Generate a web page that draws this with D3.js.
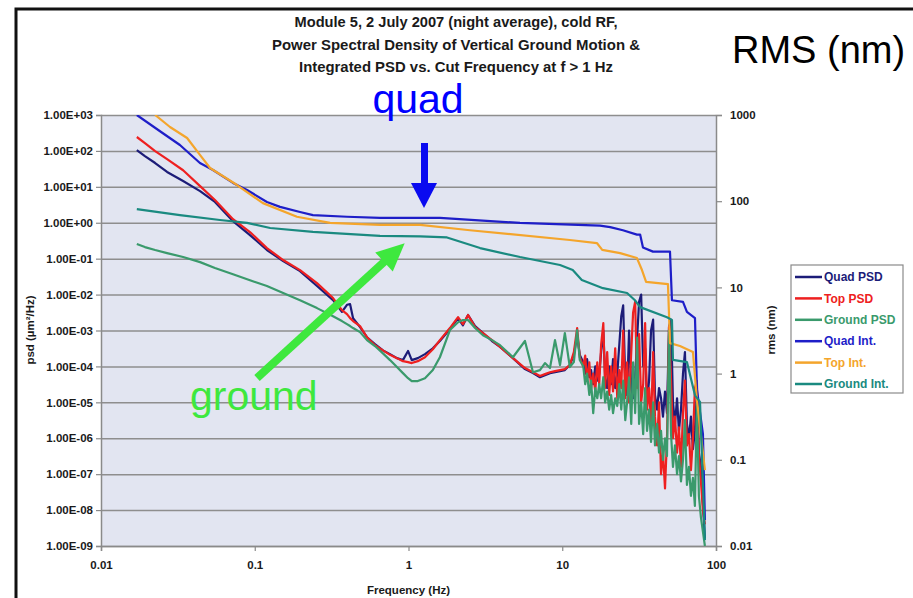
<!DOCTYPE html>
<html>
<head>
<meta charset="utf-8">
<script src="https://cdn.jsdelivr.net/npm/d3@7"></script>
<style>
body { margin: 0; background: #fff; }
svg text { font-family: "Liberation Sans", Arial, sans-serif; }
</style>
</head>
<body>
<div id="chart"></div>
<script>
// frequencies (Hz) shared by the three PSD series
var psdFreq = [
  0.0171, 0.0193, 0.0225, 0.0269, 0.0342, 0.0441, 0.0551, 0.0722, 0.0931, 0.120,
  0.153, 0.197, 0.254, 0.323, 0.369, 0.398, 0.417, 0.436, 0.484, 0.537,
  0.605, 0.682, 0.758, 0.841, 0.920, 0.993, 1.05, 1.15, 1.28, 1.44,
  1.60, 1.86, 2.10, 2.26, 2.44, 2.71, 3.05, 3.49, 3.94, 4.78,
  5.72, 6.45, 7.16, 7.72, 8.32, 8.97, 9.67, 10.4, 11.2, 11.9,
  12.5, 13.0,
  13.7, 14.1, 14.5, 15.0, 15.4, 15.9, 16.4, 16.9, 17.4, 17.9,
  18.5, 19.0, 19.6, 20.2, 20.8, 21.4, 22.1, 22.8, 23.5, 24.2,
  24.9, 25.7, 26.4, 27.2, 28.1, 28.9, 29.8, 30.7, 31.6, 32.6,
  33.6, 34.6, 35.6, 36.7, 37.8, 39.0, 40.1, 41.4, 42.6, 43.9,
  45.2, 46.6, 48.0, 49.5, 51.0, 52.5, 54.1, 55.8, 57.4, 59.2,
  61.0, 62.8, 64.7, 66.7, 68.7, 70.8, 72.9, 75.1, 77.4, 79.8, 82.2, 84.7
];

// psd (um^2/Hz)
var quadPsd = [
  106, 72, 46, 26, 14.5, 7.6, 3.8, 1.11, 0.454, 0.174,
  0.0857, 0.0452, 0.0173, 0.00703, 0.0033, 0.0052, 0.0054, 0.0022, 0.00124, 6.5e-4,
  4.2e-4, 2.8e-4, 2.2e-4, 1.7e-4, 1.5e-4, 2.7e-4, 1.5e-4, 1.7e-4, 2.2e-4, 3.2e-4,
  5.1e-4, 1.1e-3, 2.2e-3, 1.4e-3, 2.7e-3, 1.33e-3, 8.5e-4, 5.1e-4, 3.5e-4, 1.7e-4,
  8.4e-5, 6.5e-5, 5.0e-5, 5.7e-5, 6.5e-5, 6.9e-5, 7.4e-5, 7.9e-5, 1.09e-4, 2.1e-4,
  7.4e-4, 2.1e-4,
  1.3e-4, 6.3e-5, 1.6e-4, 5.0e-5, 7.9e-5, 3.2e-5, 1.0e-4, 4.0e-5, 6.3e-5, 2.5e-4,
  1.0e-3, 5.0e-5, 2.5e-5, 1.0e-4, 3.2e-5, 1.6e-4, 2.5e-5, 6.3e-5, 4.0e-4, 2.5e-3,
  5.0e-3, 4.0e-5, 1.6e-5, 1.0e-3, 2.5e-5, 1.3e-5, 5.0e-5, 6.3e-4, 6.3e-3, 1.0e-2,
  1.0e-4, 3.2e-4, 1.0e-5, 4.0e-5, 1.0e-3, 2.0e-3, 1.6e-5, 6.3e-6, 2.5e-5, 1.3e-5,
  4.0e-6, 2.0e-5, 5.0e-6, 1.3e-3, 2.0e-3, 1.0e-5, 2.5e-6, 1.3e-5, 1.6e-6, 6.3e-6,
  6.3e-5, 2.5e-4, 2.5e-6, 1.0e-6, 4.0e-6, 5.0e-7, 1.6e-6, 2.0e-5, 4.0e-7, 1.6e-7, 1.6e-8, 1.6e-9
];

var topPsd = [
  244, 166, 99, 59, 29, 10.5, 4.3, 1.26, 0.55, 0.197,
  0.0914, 0.048, 0.0209, 0.008, 0.0037, 0.00286, 0.00221, 0.00183, 0.00133, 6.5e-4,
  3.9e-4, 2.8e-4, 2.1e-4, 1.7e-4, 1.4e-4, 1.32e-4, 1.24e-4, 1.4e-4, 1.8e-4, 3.0e-4,
  5.4e-4, 1.17e-3, 2.36e-3, 1.5e-3, 2.7e-3, 1.24e-3, 8.5e-4, 5.4e-4, 3.5e-4, 1.7e-4,
  9.0e-5, 6.9e-5, 5.4e-5, 6.1e-5, 6.9e-5, 7.4e-5, 7.9e-5, 8.4e-5, 1.09e-4, 2.5e-4,
  1.17e-3, 1.8e-4,
  1.0e-4, 2.0e-4, 4.0e-5, 1.3e-4, 2.5e-5, 6.3e-5, 2.0e-5, 1.3e-4, 3.2e-5, 4.0e-4,
  1.6e-3, 2.5e-5, 2.5e-4, 1.6e-5, 1.0e-4, 2.0e-5, 3.2e-4, 1.3e-5, 7.9e-5, 2.5e-5,
  1.0e-3, 1.3e-5, 1.3e-4, 1.0e-5, 2.5e-4, 3.2e-3, 6.3e-3, 2.5e-5, 7.9e-4, 1.0e-5,
  3.2e-5, 1.6e-3, 6.3e-6, 2.5e-5, 2.5e-6, 2.5e-4, 4.0e-6, 6.3e-7, 1.0e-5, 1.0e-7,
  4.0e-7, 4.0e-8, 1.0e-6, 1.3e-3, 4.0e-5, 1.0e-6, 4.0e-6, 4.0e-7, 2.0e-6, 1.6e-7,
  5.0e-6, 4.0e-5, 6.3e-7, 1.3e-6, 1.3e-7, 1.0e-6, 2.5e-5, 4.0e-5, 3.2e-7, 6.3e-8, 1.0e-8, 4.0e-9
];

var groundPsd = [
  0.255, 0.21, 0.174, 0.143, 0.111, 0.080, 0.055, 0.037, 0.025, 0.0173,
  0.011, 0.0070, 0.0042, 0.0025, 0.00183, 0.0015, 0.00133, 0.00117, 9.0e-4, 5.4e-4,
  3.7e-4, 2.3e-4, 1.5e-4, 9.6e-5, 6.5e-5, 4.7e-5, 3.9e-5, 3.9e-5, 4.7e-5, 7.9e-5,
  1.8e-4, 1.03e-3, 1.7e-3, 1.95e-3, 1.95e-3, 1.17e-3, 7.4e-4, 5.4e-4, 3.9e-4, 1.8e-4,
  5.1e-4, 6.9e-5, 7.9e-5, 1.24e-4, 9.0e-5, 5.4e-4, 1.09e-4, 8.5e-4, 9.6e-5, 1.32e-4,
  1.03e-3, 1.5e-4,
  1.0e-4, 3.2e-5, 6.3e-5, 1.6e-5, 4.0e-5, 5.0e-6, 2.5e-5, 1.3e-5, 3.2e-5, 1.3e-5,
  5.0e-5, 1.0e-5, 2.0e-5, 6.3e-6, 1.6e-5, 5.0e-6, 1.3e-5, 7.9e-6, 3.2e-5, 6.3e-6,
  4.0e-5, 3.2e-6, 1.0e-5, 5.0e-5, 2.5e-6, 1.3e-4, 5.0e-6, 6.3e-4, 2.5e-6, 1.0e-5,
  1.3e-6, 2.5e-5, 1.6e-6, 6.3e-6, 7.9e-7, 1.0e-5, 6.3e-7, 2.5e-6, 4.0e-7, 1.6e-6,
  2.5e-7, 1.0e-6, 3.2e-7, 1.0e-3, 1.3e-6, 1.6e-7, 6.3e-7, 1.0e-7, 3.2e-7, 6.3e-8,
  2.5e-7, 3.2e-6, 5.0e-8, 1.6e-7, 2.5e-8, 7.9e-8, 1.3e-8, 1.0e-5, 2.5e-8, 6.3e-9, 2.5e-9, 1.0e-9
];

// integrated rms (nm), each with its own frequencies
var quadIntFreq = [0.0171, 0.0246, 0.0326, 0.044, 0.0535, 0.0722, 0.0891, 0.120, 0.146, 0.197,
  0.239, 0.398, 0.653, 1.60, 5.31, 17.6, 20.5, 24.8, 30.6, 32.1,
  33.5, 38.9, 50.2, 51.7, 61.0, 64.7, 73.0, 75.2, 82.2, 84.7];
var quadInt = [1000, 635, 449, 277, 230, 163, 135, 98, 86, 75,
  69, 66, 64, 64, 56, 52, 50, 46, 41, 41,
  29, 26, 26, 7.1, 6.8, 5.2, 4.4, 0.65, 0.20, 0.02];

var topIntFreq = [0.0225, 0.0281, 0.0363, 0.044, 0.0512, 0.0767, 0.113, 0.188, 0.309, 0.653,
  1.19, 2.51, 11.2, 16.8, 18.2, 23.8, 30.6, 33.0, 35.1, 48.7,
  50.2, 58.3, 70.8, 75.2, 84.7];
var topInt = [1000, 726, 541, 344, 243, 154, 95, 66, 56, 53,
  53, 46, 35.5, 32.7, 27.2, 25, 21.9, 15.9, 11.6, 10.9,
  2.26, 2.09, 1.78, 0.49, 0.076];

var groundIntFreq = [0.0171, 0.0326, 0.0594, 0.0891, 0.126, 0.239, 0.653, 1.19, 1.78, 2.92,
  5.31, 9.67, 11.7, 13.4, 18.4, 26.4, 29.7, 32.1, 48.0, 51.7,
  52.5, 64.7, 73.0, 78.7, 84.7];
var groundInt = [81, 69, 60.5, 56, 48.9, 44, 39.5, 39, 38, 28.6,
  22.5, 18.2, 15.9, 12.2, 9.8, 8.6, 7.1, 5.9, 4.5, 4.2,
  1.44, 1.36, 0.56, 0.47, 0.0117];

var psdTicks = [1e3, 1e2, 1e1, 1e0, 1e-1, 1e-2, 1e-3, 1e-4, 1e-5, 1e-6, 1e-7, 1e-8, 1e-9];
var psdTickLabels = ["1.00E+03", "1.00E+02", "1.00E+01", "1.00E+00", "1.00E-01", "1.00E-02",
  "1.00E-03", "1.00E-04", "1.00E-05", "1.00E-06", "1.00E-07", "1.00E-08", "1.00E-09"];
var rmsTicks = [1000, 100, 10, 1, 0.1, 0.01];
var rmsTickLabels = ["1000", "100", "10", "1", "0.1", "0.01"];
var freqTicks = [0.01, 0.1, 1, 10, 100];
var freqTickLabels = ["0.01", "0.1", "1", "10", "100"];

var titleLines = ["Module 5, 2 July 2007 (night average), cold RF,",
  "Power Spectral Density of Vertical Ground Motion &",
  "Integrated PSD vs. Cut Frequency at f > 1 Hz"];
var titleWidths = [323, 368, 314];

var series = [
  {name: "Quad PSD", freq: psdFreq, vals: quadPsd, axis: "psd", color: "#1c1c78"},
  {name: "Top PSD", freq: psdFreq, vals: topPsd, axis: "psd", color: "#ee2020"},
  {name: "Ground PSD", freq: psdFreq, vals: groundPsd, axis: "psd", color: "#3a9a6c"},
  {name: "Quad Int.", freq: quadIntFreq, vals: quadInt, axis: "rms", color: "#1e1ec8"},
  {name: "Top Int.", freq: topIntFreq, vals: topInt, axis: "rms", color: "#f4a52c"},
  {name: "Ground Int.", freq: groundIntFreq, vals: groundInt, axis: "rms", color: "#1a8a80"}
];

var margin = {top: 115, right: 197, bottom: 52, left: 101},
  width = 913 - margin.left - margin.right,
  height = 598 - margin.top - margin.bottom;

var svg = d3.select("#chart").append("svg")
  .attr("width", 913)
  .attr("height", 598);

// black frame of the slide
svg.append("rect")
  .attr("x", 16).attr("y", 9)
  .attr("width", 920).attr("height", 600)
  .attr("fill", "#fff").attr("stroke", "#111").attr("stroke-width", 3);

var g = svg.append("g")
  .attr("transform", "translate(" + margin.left + "," + margin.top + ")");

var x = d3.scaleLog().domain([0.01, 100]).range([0, width]);
var yPsd = d3.scaleLog().domain([1e-9, 1e3]).range([height, 0]);
var yRms = d3.scaleLog().domain([0.01, 1000]).range([height, 0]);

g.append("rect")
  .attr("width", width).attr("height", height)
  .attr("fill", "#e2e5f1");

// horizontal grid
g.append("g")
  .call(d3.axisLeft(yPsd).tickValues(psdTicks).tickSize(-width).tickFormat(""))
  .call(s => s.select(".domain").remove())
  .selectAll("line").attr("stroke", "#8e8e8e").attr("stroke-width", 1.5);

function styleAxis(s) {
  s.select(".domain").attr("stroke", "#8a8a8a").attr("stroke-width", 1.5);
  s.selectAll(".tick line").attr("stroke", "#8a8a8a").attr("stroke-width", 1.2);
  s.selectAll("text").attr("fill", "#1a1a1a").style("font-size", "11.5px").style("font-weight", "bold");
}

g.append("g")
  .call(d3.axisLeft(yPsd).tickValues(psdTicks).tickSize(5).tickPadding(3)
    .tickFormat((d, i) => psdTickLabels[i]))
  .call(styleAxis);

g.append("g")
  .attr("transform", "translate(" + width + ",0)")
  .call(d3.axisRight(yRms).tickValues(rmsTicks).tickSize(6).tickPadding(8)
    .tickFormat((d, i) => rmsTickLabels[i]))
  .call(styleAxis);

g.append("g")
  .attr("transform", "translate(0," + height + ")")
  .call(d3.axisBottom(x).tickValues(freqTicks).tickSize(5).tickPadding(10)
    .tickFormat((d, i) => freqTickLabels[i]))
  .call(styleAxis);

// lines
g.append("clipPath").attr("id", "plotclip")
  .append("rect").attr("width", width).attr("height", height);

var plot = g.append("g").attr("clip-path", "url(#plotclip)");

series.forEach(function(s) {
  var yScale = s.axis === "psd" ? yPsd : yRms;
  var line = d3.line()
    .x((d, i) => x(s.freq[i]))
    .y(d => yScale(d));
  plot.append("path")
    .datum(s.vals)
    .attr("fill", "none")
    .attr("stroke", s.color)
    .attr("stroke-width", s.axis === "psd" ? 2.2 : 2.2)
    .attr("stroke-linejoin", "round")
    .attr("d", line);
});

// axis titles
svg.append("text")
  .attr("transform", "translate(34,330) rotate(-90)")
  .attr("text-anchor", "middle")
  .style("font-size", "11.5px").style("font-weight", "bold").attr("fill", "#1a1a1a")
  .text("psd (\u00b5m\u00b2/Hz)");

svg.append("text")
  .attr("transform", "translate(775,330) rotate(-90)")
  .attr("text-anchor", "middle")
  .style("font-size", "11.5px").style("font-weight", "bold").attr("fill", "#1a1a1a")
  .text("rms (nm)");

svg.append("text")
  .attr("x", margin.left + x(1)).attr("y", 594)
  .attr("text-anchor", "middle")
  .style("font-size", "11.5px").style("font-weight", "bold").attr("fill", "#1a1a1a")
  .text("Frequency (Hz)");

// title
svg.selectAll(".title")
  .data(titleLines)
  .enter().append("text")
  .attr("class", "title")
  .attr("x", 456)
  .attr("y", (d, i) => 27 + i * 22.5)
  .attr("text-anchor", "middle")
  .attr("textLength", (d, i) => titleWidths[i])
  .attr("lengthAdjust", "spacingAndGlyphs")
  .style("font-size", "14px").style("font-weight", "bold").attr("fill", "#1a1a1a")
  .text(d => d);

svg.append("text")
  .attr("x", 732).attr("y", 63)
  .style("font-size", "38px").attr("fill", "#000")
  .text("RMS (nm)");

// legend
var legend = svg.append("g").attr("transform", "translate(791,265)");
legend.append("rect")
  .attr("width", 112).attr("height", 128)
  .attr("fill", "#fff").attr("stroke", "#8a8a8a").attr("stroke-width", 1.2);
var items = legend.selectAll(".item")
  .data(series)
  .enter().append("g")
  .attr("transform", (d, i) => "translate(0," + (12 + i * 21.4) + ")");
items.append("line")
  .attr("x1", 4).attr("x2", 31)
  .attr("stroke", d => d.color).attr("stroke-width", 2.5);
items.append("text")
  .attr("x", 33).attr("dy", "0.35em")
  .style("font-size", "12px").style("font-weight", "bold")
  .attr("fill", d => d.color)
  .text(d => d.name);

// annotations
svg.append("text")
  .attr("x", 418).attr("y", 113)
  .attr("text-anchor", "middle")
  .style("font-size", "41px").attr("fill", "#0000ff")
  .text("quad");

svg.append("rect")
  .attr("x", 421).attr("y", 143).attr("width", 7).attr("height", 42)
  .attr("fill", "#0a0af0");
svg.append("path")
  .attr("d", "M411,183 L437,183 L424,208 Z")
  .attr("fill", "#0a0af0");

svg.append("text")
  .attr("x", 190).attr("y", 410)
  .style("font-size", "41px").attr("fill", "#3ee83e")
  .text("ground");

var arrow = svg.append("g").attr("transform", "translate(257,378) rotate(-42.4)");
arrow.append("line")
  .attr("x1", 0).attr("y1", 0).attr("x2", 176).attr("y2", 0)
  .attr("stroke", "#3ee83e").attr("stroke-width", 8);
arrow.append("path")
  .attr("d", "M172,-13 L200,0 L172,13 Z")
  .attr("fill", "#3ee83e");
</script>
</body>
</html>
